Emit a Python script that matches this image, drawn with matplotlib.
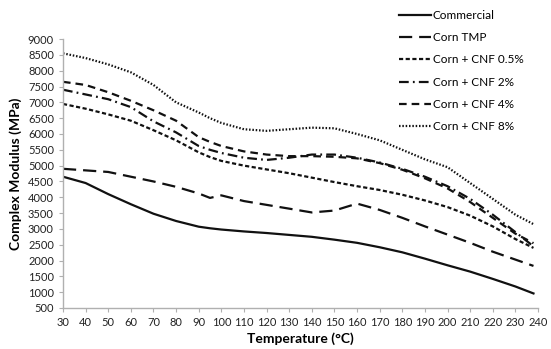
import matplotlib
matplotlib.use("Agg")
import matplotlib.pyplot as plt

plt.rcParams['font.family'] = ['Lato', 'DejaVu Sans']
plt.rcParams['lines.scale_dashes'] = False

temp = [30, 40, 50, 60, 70, 80, 90, 95, 100, 110, 120, 130, 140, 150,
        160, 170, 180, 190, 200, 210, 220, 230, 238]

commercial = [4650, 4450, 4100, 3780, 3480, 3250, 3070, 3020, 2980, 2920, 2870, 2810,
              2750, 2660, 2560, 2420, 2260, 2060, 1850, 1650, 1420, 1180, 960]
corn_tmp = [4900, 4850, 4800, 4650, 4500, 4330, 4120, 3980, 4060, 3880, 3760, 3640,
            3520, 3580, 3800, 3600, 3350, 3080, 2820, 2560, 2280, 2030, 1830]
cnf_05 = [6950, 6800, 6620, 6420, 6120, 5800, 5420, 5270, 5150, 5000, 4880, 4760,
          4620, 4480, 4350, 4230, 4080, 3900, 3690, 3420, 3080, 2680, 2400]
cnf_2 = [7400, 7250, 7100, 6850, 6400, 6050, 5620, 5500, 5400, 5250, 5180, 5250,
         5350, 5350, 5250, 5100, 4900, 4650, 4350, 3950, 3450, 2900, 2450]
cnf_4 = [7650, 7550, 7320, 7050, 6750, 6420, 5900, 5750, 5620, 5450, 5350, 5300,
         5300, 5280, 5230, 5080, 4870, 4600, 4280, 3850, 3350, 2850, 2550]
cnf_8 = [8550, 8400, 8200, 7950, 7550, 7000, 6680, 6500, 6350, 6150, 6100, 6150,
         6200, 6180, 6000, 5800, 5500, 5200, 4950, 4450, 3950, 3450, 3150]

series = [
    ("Commercial", commercial, "-"),
    ("Corn TMP", corn_tmp, (0, (9.5, 5))),
    ("Corn + CNF 0.5%", cnf_05, (0, (3, 1.8))),
    ("Corn + CNF 2%", cnf_2, (0, (7, 3, 1.3, 3))),
    ("Corn + CNF 4%", cnf_4, (0, (5.5, 3.6))),
    ("Corn + CNF 8%", cnf_8, (0, (1.1, 1.3))),
]

fig = plt.figure(figsize=(5.51, 3.49), dpi=100)
ax = fig.add_axes([0.1143, 0.1175, 0.8621, 0.7705])

for name, vals, ls in series:
    ax.plot(temp, vals, color="#111111", lw=1.6, linestyle=ls, label=name)

ax.set_xlim(30, 240)
ax.set_ylim(500, 9000)
ax.set_xticks(range(30, 241, 10))
ax.set_yticks(range(500, 9001, 500))
ax.tick_params(labelsize=8, colors="#222222", length=3, width=0.8)
ax.tick_params(axis="both", color="#b0b0b0")
for s in ("top", "right"):
    ax.spines[s].set_visible(False)
for s in ("left", "bottom"):
    ax.spines[s].set_color("#b0b0b0")
    ax.spines[s].set_linewidth(1.0)

ax.set_xlabel("Temperature (\u00b0C)", fontsize=10, fontweight="bold", labelpad=3)
ax.set_ylabel("Complex Modulus (MPa)", fontsize=10, fontweight="bold", labelpad=4)

leg = fig.legend(loc="upper left", bbox_to_anchor=(0.71, 0.995), frameon=False,
                 fontsize=8.5, handlelength=2.7, handletextpad=0.1,
                 labelspacing=0.95, borderaxespad=0.3)

fig.savefig("out.png", dpi=100)
